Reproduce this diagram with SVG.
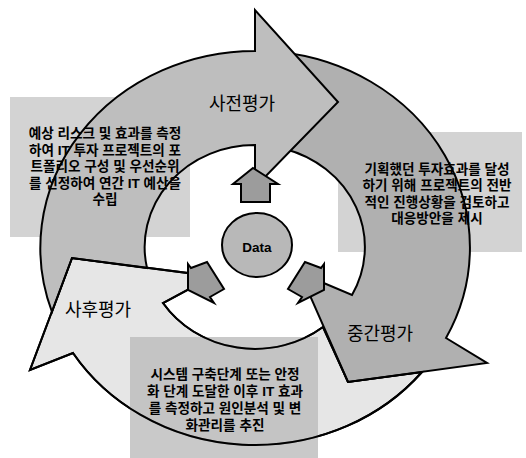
<svg xmlns="http://www.w3.org/2000/svg" xmlns:xlink="http://www.w3.org/1999/xlink" width="526" height="458" viewBox="0 0 526 458">
<style>
  .shape{stroke:#000;stroke-width:2;stroke-linejoin:miter}
  .outline{fill:none;stroke:#000;stroke-width:2;stroke-linejoin:miter}
  .box{fill:#d3d3d3}
  .lbl{font-family:"Liberation Sans","Noto Sans CJK KR",sans-serif;font-size:18px;text-anchor:middle;fill:#000}
  .txt{font-family:"Liberation Sans","Noto Sans CJK KR",sans-serif;font-size:13.6px;font-weight:bold;text-anchor:middle;fill:#000}
  .small{fill:#9c9c9c;stroke:#000;stroke-width:2;stroke-linejoin:miter}
</style>
<defs>
  <path id="p-post" d="M422,372 A215,197 0 0 1 73,353 L30,370 L72,258 L195,274 L195,286 L163,303 A110,102 0 0 0 323,327 L348,382 Z"/>
</defs>
<rect width="526" height="458" fill="#fff"/>
<g id="boxes-back">
  <rect class="box" x="10" y="97" width="180" height="140"/>
  <rect class="box" x="338" y="132" width="184" height="120"/>
</g>
<g id="post-eval">
  <use xlink:href="#p-post" class="shape" fill="#e6e6e6"/>
  <text class="lbl" x="98" y="316">사후평가</text>
</g>
<g id="mid-eval">
  <path class="shape" fill="#b0b0b0" d="M280,52 A215,197 0 0 1 446,338 L487,363 L348,382 L300,273 L352,295 A110,102 0 0 0 285,149 Z"/>
  <text class="lbl" x="380" y="340">중간평가</text>
</g>
<g id="pre-eval">
  <path class="shape" fill="#bebebe" d="M255,51 L255,10 L338,102 L262,180 L255,180 L255,145 A110,102 0 0 0 147,268 L72,258 L52,312 A215,197 0 0 1 255,51 Z"/>
  <text class="lbl" x="242" y="110">사전평가</text>
</g>
<g id="desc-post">
  <rect x="130" y="337" width="188" height="121" fill="#bcbcbc" opacity="0.8"/>
  <use xlink:href="#p-post" class="outline"/>
  <text class="txt" x="225" y="378.5"><tspan x="225">시스템 구축단계 또는 안정</tspan><tspan x="225" dy="17">화 단계 도달한 이후 IT 효과</tspan><tspan x="225" dy="17">를 측정하고 원인분석 및 변</tspan><tspan x="225" dy="17">화관리를 추진</tspan></text>
</g>
<g id="desc-pre">
  <text class="txt" x="105" y="138"><tspan x="105">예상 리스크 및 효과를 측정</tspan><tspan x="105" dy="16.5">하여 IT 투자 프로젝트의 포</tspan><tspan x="105" dy="16.5">트폴리오 구성 및 우선순위</tspan><tspan x="105" dy="16.5">를 선정하여 연간 IT 예산을</tspan><tspan x="105" dy="16.5">수립</tspan></text>
</g>
<g id="desc-mid">
  <text class="txt" x="437" y="173.5"><tspan x="437">기획했던 투자효과를 달성</tspan><tspan x="437" dy="16.5">하기 위해 프로젝트의 전반</tspan><tspan x="437" dy="16.5">적인 진행상황을 검토하고</tspan><tspan x="437" dy="16.5">대응방안을 제시</tspan></text>
</g>
<g id="connectors">
  <polygon class="small" points="253,168 278,184 270,184 270,202 241,202 241,184 233,184"/>
  <polygon class="small" points="188,264 191,268 207,262 224,289 210,297 214,303 188,290"/>
  <polygon class="small" points="324,264 321,268 305,262 288,289 302,297 298,303 324,290"/>
</g>
<g id="data">
  <ellipse cx="257" cy="245" rx="35" ry="32" fill="#b8b8b8" stroke="#000" stroke-width="2"/>
  <text x="257" y="252" font-family="'Liberation Sans',Arial,sans-serif" font-size="13.5" font-weight="bold" text-anchor="middle">Data</text>
</g>
</svg>
